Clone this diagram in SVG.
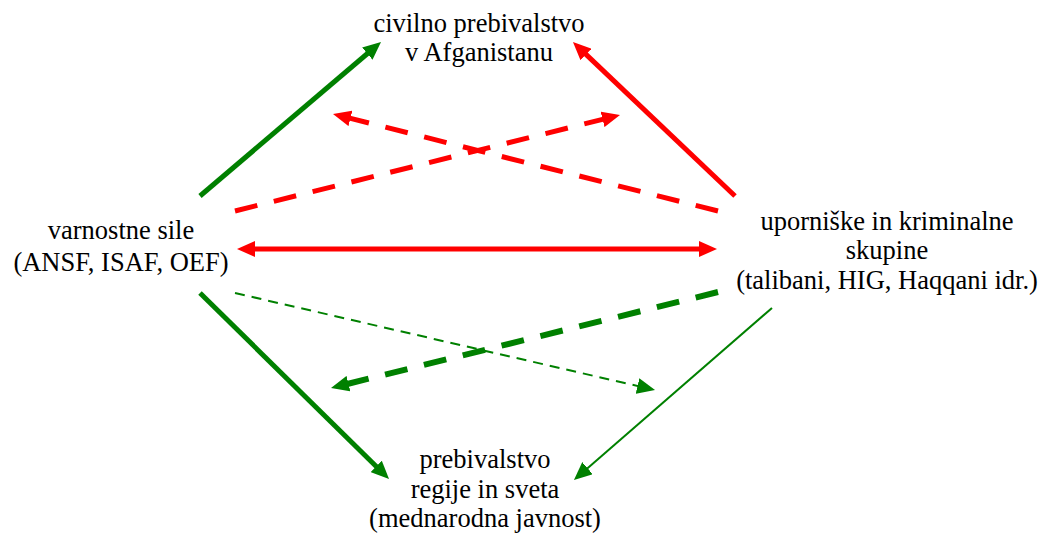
<svg xmlns="http://www.w3.org/2000/svg" width="1045" height="535" viewBox="0 0 1045 535">
<style>
.t{font-family:'Liberation Serif','Times New Roman',serif;font-size:26.5px;fill:#000;text-anchor:middle}
.r{stroke:#FF0000;fill:none}
.g{stroke:#008000;fill:none}
.w5{stroke-width:5}
.w6{stroke-width:6}
.w2{stroke-width:2}
.d1{stroke-dasharray:23 17}
.d2{stroke-dasharray:10 7}
</style>
<defs>
<marker id="ar" markerUnits="userSpaceOnUse" markerWidth="18" markerHeight="16" refX="8" refY="8" orient="auto-start-reverse" viewBox="0 0 18 16"><path d="M0,0 L18,8 L0,16 z" fill="#FF0000"/></marker>
<marker id="ag" markerUnits="userSpaceOnUse" markerWidth="18" markerHeight="16" refX="8" refY="8" orient="auto" viewBox="0 0 18 16"><path d="M0,0 L18,8 L0,16 z" fill="#008000"/></marker>
</defs>
<g id="connectors">
<line class="g w5" x1="200" y1="196" x2="373.4" y2="48.5" marker-end="url(#ag)"/>
<line class="r w5" x1="735" y1="196" x2="580.2" y2="48.9" marker-end="url(#ar)"/>
<line class="r w5 d1" x1="718" y1="211" x2="342.7" y2="116.4" marker-end="url(#ar)"/>
<line class="r w5 d1" x1="235" y1="211" x2="610.3" y2="117.4" marker-end="url(#ar)"/>
<line class="r w5" x1="247" y1="249" x2="707" y2="249" marker-start="url(#ar)" marker-end="url(#ar)"/>
<line class="g w2 d2" x1="235" y1="293" x2="645.3" y2="387.8" marker-end="url(#ag)"/>
<line class="g w6 d1" x1="718" y1="292" x2="340.7" y2="385.6" marker-end="url(#ag)"/>
<line class="g w5" x1="200" y1="293" x2="381.9" y2="472" marker-end="url(#ag)"/>
<line class="g w2" x1="772" y1="308" x2="581.5" y2="473.4" marker-end="url(#ag)"/>
</g>
<g id="civilno" class="t">
<text x="479" y="32">civilno prebivalstvo</text>
<text x="479" y="61">v Afganistanu</text>
</g>
<g id="varnostne" class="t">
<text x="121" y="239">varnostne sile</text>
<text x="121" y="271">(ANSF, ISAF, OEF)</text>
</g>
<g id="uporniske" class="t">
<text x="887" y="230">uporniške in kriminalne</text>
<text x="887" y="259">skupine</text>
<text x="887" y="289">(talibani, HIG, Haqqani idr.)</text>
</g>
<g id="prebivalstvo" class="t">
<text x="485" y="468">prebivalstvo</text>
<text x="485" y="498">regije in sveta</text>
<text x="485" y="527">(mednarodna javnost)</text>
</g>
</svg>
